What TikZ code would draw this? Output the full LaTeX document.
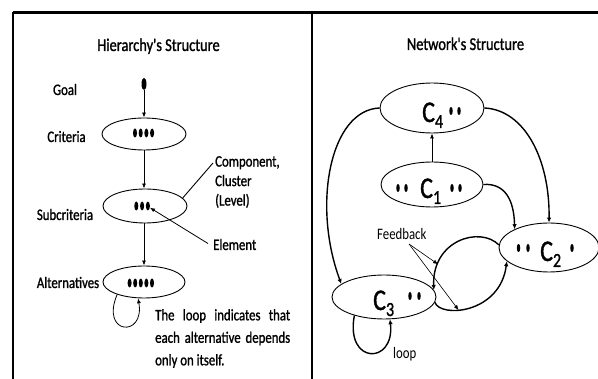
\documentclass[tikz,border=0pt]{standalone}
\usepackage{fontspec}
\setmainfont{Carlito}[FakeStretch=0.8]
\newfontfamily\heavy{Carlito}[FakeStretch=0.8, FakeBold=1.2]
\usetikzlibrary{shapes.geometric,arrows.meta}

\newcommand{\clab}[1]{{\heavy\fontsize{30}{30}\selectfont C}\raisebox{-6pt}{\heavy\fontsize{20}{20}\selectfont #1}}

\tikzset{
  clus/.style={ellipse, draw, line width=0.9pt, inner sep=0pt},
  elem/.style={ellipse, fill=black, inner sep=0pt, minimum width=4pt, minimum height=9pt},
  celem/.style={ellipse, fill=black, inner sep=0pt, minimum width=3.5pt, minimum height=8pt},
  lab/.style={inner sep=0pt, font=\heavy\fontsize{16}{22.5}\selectfont},
  title/.style={inner sep=0pt, font=\heavy\fontsize{18}{22}\selectfont},
  arr/.style={-{Latex[length=5pt,width=4pt]}, line width=0.8pt},
  link/.style={-{Latex[length=5pt,width=4.5pt]}, line width=1.4pt}
}

\begin{document}
\begin{tikzpicture}[x=1pt, y=-1pt, font=\fontsize{16}{22.5}\selectfont]
    \useasboundingbox (0,0) rectangle (598,379);

    % frame
    \draw[line width=3pt] (13,13) -- (598,13);
    \draw[line width=2.2pt] (13,12) -- (13,379);
    \draw[line width=2.2pt] (312,12) -- (312,379);

    % hierarchy
    \node[title, anchor=base] (htitle) at (158.5,51) {Hierarchy's Structure};

    \node[elem, minimum width=5pt, minimum height=12pt] (goal) at (144,84) {};
    \node[clus, minimum width=84pt, minimum height=32pt] (crit) at (144,134) {};
    \node[clus, minimum width=84pt, minimum height=34pt] (sub) at (145,206) {};
    \node[clus, minimum width=82pt, minimum height=32pt] (alt) at (144,282) {};

    \foreach \i in {1,...,4} \node[elem] (cr\i) at ({129.3+5.7*\i},133) {};
    \foreach \i in {1,...,3} \node[elem] (sb\i) at ({130.5+5.8*\i},206) {};
    \foreach \i in {1,...,5} \node[elem] (al\i) at ({124+5.6*\i},283) {};

    \node[lab, anchor=base] (goallab) at (65,95) {Goal};
    \node[lab, anchor=base] (critlab) at (66.5,142) {Criteria};
    \node[lab, anchor=base] (sublab) at (65,220) {Subcriteria};
    \node[lab, anchor=base] (altlab) at (68,288) {Alternatives};

    \draw[arr] (goal) -- (crit);
    \draw[arr] (crit) -- (crit.south |- sub.north);
    \draw[arr] (sub.south -| alt.north) -- (alt);

    \node[lab, anchor=north west, align=left, font=\heavy\fontsize{16}{19.5}\selectfont] (complab) at (215,156) {Component,\\Cluster\\(Level)};
    \coordinate (cmp) at (213,163);
    \draw[line width=0.9pt] (cmp) -- (sub.12);

    \node[lab, anchor=base west] (elemlab) at (213,250) {Element};
    \draw[arr] ([xshift=-5pt,yshift=1pt]elemlab.west) -- (sb3.-40);

    \draw[arr] (alt.205) .. controls (100,335) and (145,338) .. (alt.250);
    \node[lab, anchor=north west, text width=135pt, align=justify] (loopnote) at (155,309)
        {The loop indicates that each alternative depends only on itself.};

    % network
    \node[title, anchor=base] (ntitle) at (465.5,50) {Network's Structure};

    \node[clus, minimum width=104pt, minimum height=50pt] (netc4) at (432,108) {};
    \node[clus, minimum width=102pt, minimum height=45pt] (netc1) at (432,184.5) {};
    \node[clus, minimum width=100pt, minimum height=49pt] (netc2) at (549,247.5) {};
    \node[clus, minimum width=104pt, minimum height=44pt] (netc3) at (384,297) {};

    \node[inner sep=0pt, anchor=base west] (c4lab) at (422,122) {\clab{4}};
    \node[inner sep=0pt, anchor=base west] (c1lab) at (420,198) {\clab{1}};
    \node[inner sep=0pt, anchor=base west] (c2lab) at (540,261) {\clab{2}};
    \node[inner sep=0pt, anchor=base west] (c3lab) at (373,310) {\clab{3}};

    \foreach \x/\y [count=\k] in {451/111, 459/111, 398/188, 406/188, 452/188, 460/188,
        518.5/248, 528/248, 572/248, 410/296, 419/296}
        \node[celem] (dot\k) at (\x,\y) {};

    \draw[arr] (netc1) -- (netc4);
    \draw[link] (netc4.west) .. controls (330,110) and (312,205) .. (netc3.163);
    \draw[link] (netc4.east) .. controls (525,110) and (550,160) .. (netc2.north);
    \draw[link] (netc1.east) .. controls (505,183) and (514,200) .. (netc2.152);

    % feedback
    \draw[link] (netc2.177) .. controls (480,226) and (432,240) .. coordinate[pos=0.8] (fba) (netc3.8);
    \draw[link] (netc3.-6) .. controls (440,318) and (500,314) .. coordinate[pos=0.38] (fbb) (netc2.198);

    \node[inner sep=0pt, anchor=base west] (fblab) at (377,240) {Feedback};
    \coordinate (fbs) at (409,244);
    \draw[arr, line width=0.6pt] (fbs) -- (fba);
    \draw[arr, line width=0.6pt] (fbs) -- (fbb);

    \draw[link] (netc3.212) .. controls (345,365) and (395,365) .. (netc3.285);
    \node[inner sep=0pt, anchor=base west] (looplab) at (393,359) {loop};
\end{tikzpicture}
\end{document}
